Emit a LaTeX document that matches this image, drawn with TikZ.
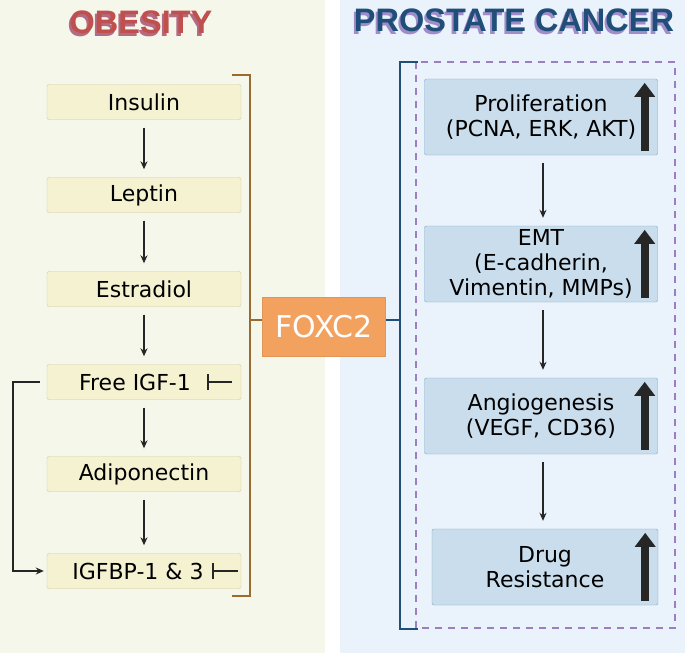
\documentclass[tikz,border=0pt]{standalone}
\usepackage{fontspec}
\setmainfont{DejaVu Sans}
\newfontfamily\titlefont{Liberation Sans}
\usetikzlibrary{arrows.meta,positioning}
\definecolor{leftbg}{HTML}{F6F7EB}
\definecolor{rightbg}{HTML}{EAF3FC}
\definecolor{obred}{HTML}{C0504D}
\definecolor{pcblue}{HTML}{1F4E79}
\definecolor{shadowpurple}{HTML}{A08CC8}
\definecolor{boxbeige}{HTML}{F5F2D2}
\definecolor{beigeline}{HTML}{D2C99A}
\definecolor{boxblue}{HTML}{C9DDEC}
\definecolor{blueline}{HTML}{7FA6C8}
\definecolor{brown}{HTML}{9A6A30}
\definecolor{foxorange}{HTML}{F2A15F}
\definecolor{dashpurple}{HTML}{9B7FC0}
\tikzset{
  obbox/.style={draw=beigeline,fill=boxbeige,rounded corners=2pt,minimum width=194pt,minimum height=35pt,font=\fontsize{22}{25}\selectfont},
  pcbox/.style={draw=blueline,fill=boxblue,rounded corners=2pt,minimum height=76pt,inner sep=1pt,align=center,font=\fontsize{22}{25}\selectfont},
  title/.style={font=\titlefont\bfseries\fontsize{32.5}{35}\selectfont},
  flow/.style={-{Stealth[length=8pt,width=7pt]},line width=1.3pt,black!85},
  inhib/.style={-{Bar[width=16pt]},line width=1.8pt,black!85},
  up/.style={-{Triangle[length=14pt,width=20pt]},line width=8pt,black!85}
}
\begin{document}
\begin{tikzpicture}[x=1pt,y=-1pt]
\useasboundingbox (0,0) rectangle (685,653);
\fill[leftbg] (0,0) rectangle (325,653);
\fill[rightbg] (340,0) rectangle (685,653);
% titles
\node[title,text=obred!55!shadowpurple] at (139,25) {OBESITY};
\node[title,text=obred] (obtitle) at (141,22) {OBESITY};
\node[title,text=shadowpurple] at (512,23) {PROSTATE CANCER};
\node[title,text=pcblue] (pctitle) at (514,20) {PROSTATE CANCER};
% obesity chain
\node[obbox] (insulin) at (144,102) {Insulin};
\node[obbox] (leptin) at (144,195) {Leptin};
\node[obbox] (estradiol) at (144,289) {Estradiol};
\node[obbox] (igf) at (144,382) {\hspace{-18pt}Free IGF-1};
\node[obbox] (adipo) at (144,474) {Adiponectin};
\node[obbox] (igfbp) at (144,571) {\hspace{-12pt}IGFBP-1 \& 3};
\foreach \a/\b in {insulin/leptin,leptin/estradiol,estradiol/igf,igf/adipo,adipo/igfbp}
  \draw[flow] ([yshift=-8pt]\a.south) -- ([yshift=8pt]\b.north);
\draw[inhib] ([xshift=-9pt]igf.east) -- ([xshift=-34pt]igf.east);
\draw[inhib] ([xshift=-3pt]igfbp.east) -- ([xshift=-29pt]igfbp.east);
\coordinate (fbtop) at (13,382);
\draw[flow] ([xshift=-7pt]igf.west) -- (fbtop) |- ([xshift=-3pt]igfbp.west);
% brown bracket and FOXC2
\node[fill=foxorange,draw=foxorange!80!brown,text=white,minimum width=123pt,minimum height=59pt,font=\fontsize{30}{32}\selectfont] (foxc) at (324,327) {FOXC2};
\draw[brown,line width=2.2pt] (232,75) -- (250,75) -- (250,596) -- (232,596);
\draw[brown,line width=2.2pt] (250,320) -- (foxc.west |- 0,320);
% prostate cancer side
\draw[dashpurple,line width=1.4pt,dash pattern=on 7pt off 6pt] (416,62) rectangle (675,628);
\draw[pcblue,line width=2.5pt] (foxc.east |- 0,320) -- (400,320);
\draw[pcblue,line width=2.5pt] (418,62) -- (400,62) -- (400,629) -- (418,629);
\node[pcbox,minimum width=233pt] (prolif) at (541,117) {Proliferation\\(PCNA, ERK, AKT)\hspace{18pt}};
\node[pcbox,minimum width=233pt] (emt) at (541,264) {EMT\\(E-cadherin,\\Vimentin, MMPs)\hspace{18pt}};
\node[pcbox,minimum width=233pt] (angio) at (541,416) {Angiogenesis\\(VEGF, CD36)\hspace{18pt}};
\node[pcbox,minimum width=226pt] (drug) at (545,567) {Drug\\Resistance\hspace{18pt}};
\foreach \a/\b in {prolif/emt,emt/angio,angio/drug}
  \draw[flow] ([yshift=-8pt]\a.south -| 543,0) -- ([yshift=8pt]\b.north -| 543,0);
\foreach \n in {prolif,emt,angio,drug}
  \draw[up] ([xshift=-13pt,yshift=4pt]\n.south east) -- ([xshift=-13pt,yshift=-4pt]\n.north east);
\end{tikzpicture}
\end{document}
